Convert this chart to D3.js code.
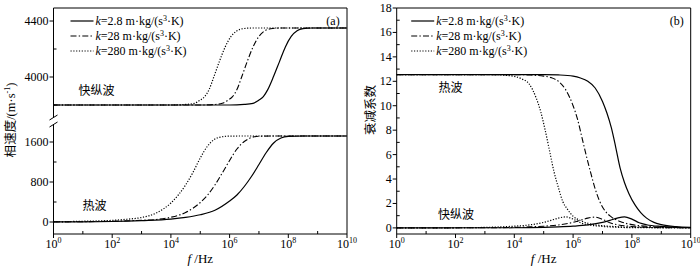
<!DOCTYPE html>
<html><head><meta charset="utf-8">
<script src="https://cdn.jsdelivr.net/npm/d3@7"></script>
<style>
body{margin:0;background:#fff;}
svg{display:block;}
text{font-family:"Liberation Serif","Times New Roman",serif;fill:#000;}
.cjk{font-family:"Noto Sans CJK SC","Noto Sans CJK JP",sans-serif;}
</style></head>
<body>
<svg id="chart" width="700" height="266"></svg>
<script>
// ---------------- DATA ----------------
const seriesKeys = ["k=2.8", "k=28", "k=280"];
const legendValues = ["2.8", "28", "280"];
const xMajorExp = [0, 2, 4, 6, 8, 10];
const xMinorExp = [1, 3, 5, 7, 9];
const yUpMajor = [4000, 4400];
const yUpMinor = [3800, 4200];
const yLoMajor = [0, 800, 1600];
const yLoMinor = [400, 1200];
const yRMajor = [0, 2, 4, 6, 8, 10, 12, 14, 16, 18];
const yRMinor = [1, 3, 5, 7, 9, 11, 13, 15, 17];

// (a) fast longitudinal wave phase velocity (m/s), log10 f exponents
const fastVelExp1 = [0, 6.0, 6.5, 6.8, 7.0, 7.15, 7.3, 7.5, 7.7, 7.9, 8.1, 8.3, 8.5, 8.8, 10];
const fastVelVal1 = [3800, 3800, 3804, 3812, 3835, 3860, 3910, 4005, 4110, 4215, 4290, 4330, 4345, 4350, 4350];
const fastVelExp2 = [0, 5.0, 5.5, 5.75, 5.95, 6.1, 6.25, 6.42, 6.6, 6.8, 7.0, 7.2, 7.4, 7.7, 10];
const fastVelVal2 = [3800, 3800, 3804, 3812, 3835, 3860, 3910, 4005, 4110, 4215, 4290, 4330, 4345, 4350, 4350];
const fastVelExp3 = [0, 4.0, 4.5, 4.8, 5.0, 5.15, 5.3, 5.47, 5.65, 5.85, 6.05, 6.25, 6.45, 6.75, 10];
const fastVelVal3 = [3800, 3800, 3804, 3812, 3835, 3860, 3910, 4005, 4110, 4215, 4290, 4330, 4345, 4350, 4350];

// (a) thermal wave phase velocity (m/s)
const thermVelExp1 = [0, 1, 2, 3, 4, 4.5, 5, 5.5, 6, 6.25, 6.5, 6.75, 7, 7.25, 7.5, 7.75, 8, 8.5, 9, 10];
const thermVelVal1 = [1, 3, 10, 28, 58, 92, 145, 235, 420, 540, 710, 915, 1150, 1390, 1580, 1680, 1712, 1720, 1720, 1720];
const thermVelExp2 = [0, 1, 2, 3, 3.5, 4, 4.5, 5, 5.25, 5.5, 5.75, 6, 6.25, 6.5, 6.75, 7, 7.5, 10];
const thermVelVal2 = [2, 6, 15, 35, 50, 95, 190, 390, 540, 740, 980, 1230, 1460, 1610, 1690, 1715, 1720, 1720];
const thermVelExp3 = [0, 1, 2, 2.5, 3, 3.5, 4, 4.25, 4.5, 4.75, 5, 5.25, 5.5, 5.75, 6, 6.5, 10];
const thermVelVal3 = [5, 15, 33, 55, 90, 180, 380, 540, 740, 990, 1280, 1520, 1660, 1705, 1718, 1720, 1720];

// (b) thermal wave attenuation
const thermAttExp1 = [0, 5, 5.5, 6, 6.25, 6.5, 6.75, 7, 7.15, 7.3, 7.45, 7.6, 7.75, 7.9, 8.1, 8.3, 8.5, 8.75, 9, 9.5, 10];
const thermAttVal1 = [12.55, 12.55, 12.52, 12.42, 12.27, 12.0, 11.45, 10.35, 9.4, 8.2, 6.6, 4.9, 3.7, 2.8, 1.9, 1.25, 0.8, 0.45, 0.27, 0.1, 0.04];
const thermAttExp2 = [0, 4, 4.5, 5, 5.25, 5.5, 5.75, 6, 6.15, 6.3, 6.45, 6.6, 6.75, 6.9, 7.1, 7.3, 7.6, 8, 8.5, 9, 10];
const thermAttVal2 = [12.55, 12.55, 12.52, 12.42, 12.3, 12.0, 11.3, 10.0, 8.9, 7.4, 5.9, 4.5, 3.2, 2.2, 1.35, 0.9, 0.52, 0.27, 0.13, 0.06, 0.02];
const thermAttExp3 = [0, 3, 3.5, 4, 4.25, 4.5, 4.75, 4.9, 5.05, 5.2, 5.35, 5.5, 5.65, 5.8, 6, 6.25, 6.5, 7, 7.5, 8, 10];
const thermAttVal3 = [12.55, 12.55, 12.52, 12.4, 12.2, 11.8, 10.6, 9.5, 8.0, 6.3, 4.6, 3.3, 2.15, 1.55, 0.95, 0.6, 0.38, 0.18, 0.1, 0.05, 0.01];

// (b) fast longitudinal wave attenuation
const fastAttExp1 = [0, 4, 5, 5.5, 6, 6.5, 7, 7.25, 7.5, 7.75, 8, 8.25, 8.5, 9, 9.5, 10];
const fastAttVal1 = [0, 0.01, 0.04, 0.08, 0.14, 0.24, 0.45, 0.62, 0.8, 0.9, 0.72, 0.42, 0.26, 0.12, 0.05, 0.02];
const fastAttExp2 = [0, 3, 4, 4.5, 5, 5.5, 6, 6.25, 6.5, 6.75, 7, 7.25, 7.5, 8, 8.5, 9, 10];
const fastAttVal2 = [0, 0.01, 0.04, 0.08, 0.14, 0.24, 0.45, 0.62, 0.8, 0.88, 0.7, 0.42, 0.26, 0.12, 0.05, 0.02, 0.01];
const fastAttExp3 = [0, 2, 3, 3.5, 4, 4.5, 5, 5.25, 5.5, 5.75, 6, 6.25, 6.5, 7, 7.5, 8, 10];
const fastAttVal3 = [0, 0.01, 0.04, 0.08, 0.14, 0.24, 0.45, 0.62, 0.8, 0.9, 0.72, 0.42, 0.26, 0.12, 0.05, 0.02, 0.01];

// ---------------- DRAW ----------------
const svg = d3.select("#chart");
const styles = [
  {dash: null, w: 1.2},
  {dash: "6,2.2,1.4,2.2", w: 1.1},
  {dash: "1.2,1.6", w: 1.2}
];
const zip = (ex, vs) => ex.map((e, i) => [Math.pow(10, e), vs[i]]);

function drawPanel(opt) {
  const g = svg.append("g");
  const x = opt.x;
  const [x0, x1] = x.range();
  const line = (ys) => d3.line().x(d => x(d[0])).y(d => ys(d[1])).curve(d3.curveMonotoneX);
  opt.series.forEach(s => {
    g.append("path").datum(s.data).attr("d", line(s.y))
      .attr("fill", "none").attr("stroke", "#000")
      .attr("stroke-width", styles[s.i].w)
      .attr("stroke-dasharray", styles[s.i].dash);
  });
  const yTop = opt.top, yBot = opt.bottom;
  const fr = g.append("g").attr("stroke", "#000").attr("stroke-width", 1).attr("fill", "none");
  fr.append("line").attr("x1", x0).attr("x2", x1).attr("y1", yTop).attr("y2", yTop);
  fr.append("line").attr("x1", x0).attr("x2", x1).attr("y1", yBot).attr("y2", yBot);
  fr.append("line").attr("x1", x1).attr("x2", x1).attr("y1", yTop).attr("y2", yBot);
  opt.leftSegs.forEach(sg => fr.append("line").attr("x1", x0).attr("x2", x0).attr("y1", sg[0]).attr("y2", sg[1]));
  xMajorExp.forEach(e => {
    const px = x(Math.pow(10, e));
    fr.append("line").attr("x1", px).attr("x2", px).attr("y1", yBot).attr("y2", yBot + 4);
    const t = g.append("text").attr("x", px).attr("y", 248).attr("text-anchor", "middle").attr("font-size", 12);
    t.append("tspan").text("10");
    t.append("tspan").attr("font-size", 8).attr("dy", -5).text(e);
  });
  xMinorExp.forEach(e => {
    const px = x(Math.pow(10, e));
    fr.append("line").attr("x1", px).attr("x2", px).attr("y1", yBot).attr("y2", yBot - 3);
  });
  opt.yAxes.forEach(a => {
    a.major.forEach(v => {
      const py = a.y(v);
      fr.append("line").attr("x1", x0 - 4).attr("x2", x0).attr("y1", py).attr("y2", py);
      g.append("text").attr("x", x0 - 5).attr("y", py + 4).attr("text-anchor", "end").attr("font-size", 12).text(v);
    });
    a.minor.forEach(v => {
      const py = a.y(v);
      fr.append("line").attr("x1", x0).attr("x2", x0 + 3).attr("y1", py).attr("y2", py);
    });
  });
  const xt = g.append("text").attr("x", (x0 + x1) / 2).attr("y", 263).attr("text-anchor", "middle").attr("font-size", 13);
  xt.append("tspan").attr("font-style", "italic").text("f");
  xt.append("tspan").text(" /Hz");
  const lx = x0 + opt.legendDx;
  legendValues.forEach((v, i) => {
    const ly = 21 + i * 15;
    g.append("line").attr("x1", lx).attr("x2", lx + 23).attr("y1", ly).attr("y2", ly)
      .attr("stroke", "#000").attr("stroke-width", styles[i].w).attr("stroke-dasharray", styles[i].dash);
    const t = g.append("text").attr("x", lx + 25).attr("y", ly + 4).attr("font-size", 12);
    t.append("tspan").attr("font-style", "italic").text("k");
    t.append("tspan").text("=" + v + " m·kg/(s");
    t.append("tspan").attr("font-size", 8).attr("dy", -4).text("3");
    t.append("tspan").attr("dy", 4).text("·K)");
  });
  g.append("text").attr("x", x1 - 14).attr("y", 25).attr("text-anchor", "middle").attr("font-size", 12).text(opt.tag);
  return g;
}

// Panel (a)
const xA = d3.scaleLog().domain([1, 1e10]).range([53.5, 347]);
const yUp = d3.scaleLinear().domain([3700, 4493]).range([119, 8]);
const yLo = d3.scaleLinear().domain([-240, 2000]).range([234, 122]);
const gA = drawPanel({
  x: xA, top: 8, bottom: 234, leftSegs: [[8, 117.5], [124.5, 234]], legendDx: 17, tag: "(a)",
  series: [
    {i: 0, y: yUp, data: zip(fastVelExp1, fastVelVal1)},
    {i: 1, y: yUp, data: zip(fastVelExp2, fastVelVal2)},
    {i: 2, y: yUp, data: zip(fastVelExp3, fastVelVal3)},
    {i: 0, y: yLo, data: zip(thermVelExp1, thermVelVal1)},
    {i: 1, y: yLo, data: zip(thermVelExp2, thermVelVal2)},
    {i: 2, y: yLo, data: zip(thermVelExp3, thermVelVal3)}
  ],
  yAxes: [{y: yUp, major: yUpMajor, minor: yUpMinor}, {y: yLo, major: yLoMajor, minor: yLoMinor}]
});
[117.5, 124.5].forEach(yb => {
  gA.append("line").attr("x1", 49.5).attr("x2", 57.5).attr("y1", yb + 2.5).attr("y2", yb - 2.5)
    .attr("stroke", "#000").attr("stroke-width", 1);
});
gA.append("text").attr("class", "cjk").attr("x", 96.5).attr("y", 94.5).attr("text-anchor", "middle").attr("font-size", 12).text("快纵波");
gA.append("text").attr("class", "cjk").attr("x", 94.5).attr("y", 210).attr("text-anchor", "middle").attr("font-size", 12).text("热波");
const ytA = gA.append("text").attr("transform", "translate(15,120) rotate(-90)").attr("text-anchor", "middle").attr("font-size", 12.5);
ytA.append("tspan").attr("class", "cjk").text("相速度");
ytA.append("tspan").text("/(m·s");
ytA.append("tspan").attr("font-size", 8).attr("dy", -5).text("-1");
ytA.append("tspan").attr("dy", 5).text(")");

// Panel (b)
const xB = d3.scaleLog().domain([1, 1e10]).range([396.7, 690.7]);
const yB = d3.scaleLinear().domain([-0.5, 18]).range([234, 8]);
const gB = drawPanel({
  x: xB, top: 8, bottom: 234, leftSegs: [[8, 234]], legendDx: 14.5, tag: "(b)",
  series: [
    {i: 0, y: yB, data: zip(thermAttExp1, thermAttVal1)},
    {i: 1, y: yB, data: zip(thermAttExp2, thermAttVal2)},
    {i: 2, y: yB, data: zip(thermAttExp3, thermAttVal3)},
    {i: 0, y: yB, data: zip(fastAttExp1, fastAttVal1)},
    {i: 1, y: yB, data: zip(fastAttExp2, fastAttVal2)},
    {i: 2, y: yB, data: zip(fastAttExp3, fastAttVal3)}
  ],
  yAxes: [{y: yB, major: yRMajor, minor: yRMinor}]
});
gB.append("text").attr("class", "cjk").attr("x", 450.5).attr("y", 92).attr("text-anchor", "middle").attr("font-size", 12).text("热波");
gB.append("text").attr("class", "cjk").attr("x", 456).attr("y", 218.5).attr("text-anchor", "middle").attr("font-size", 12).text("快纵波");
gB.append("text").attr("class", "cjk").attr("transform", "translate(371,110) rotate(-90)")
  .attr("text-anchor", "middle").attr("dy", 4).attr("font-size", 12.5).text("衰减系数");
</script>
</body></html>
